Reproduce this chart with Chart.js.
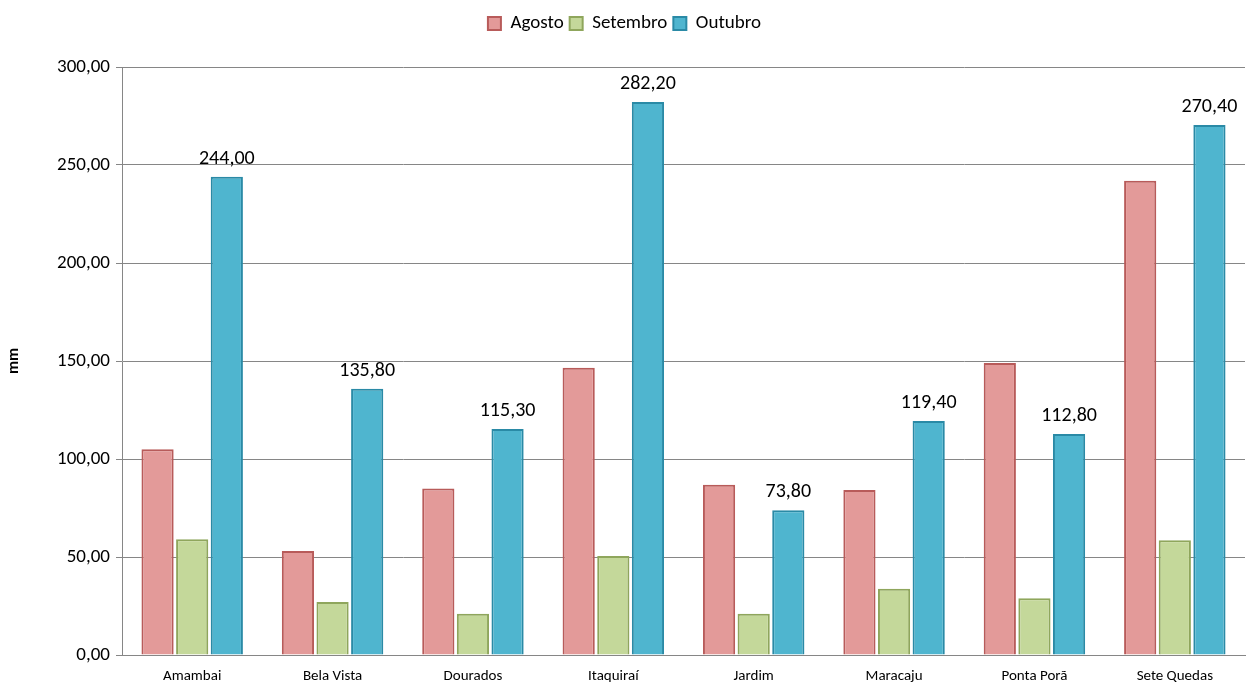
<!DOCTYPE html>
<html><head><meta charset="utf-8">
<script src="https://cdn.jsdelivr.net/npm/chart.js@4/dist/chart.umd.min.js"></script>
<style>html,body{margin:0;background:#fff}#wrap{width:1257px;height:692px}</style>
</head><body><div id="wrap"><canvas id="c"></canvas></div>
<script>
const cities = ['Amambai','Bela Vista','Dourados','Itaquiraí','Jardim','Maracaju','Ponta Porã','Sete Quedas'];
const agosto = [105, 53, 85, 146.5, 86.8, 84.2, 149, 242];
const setembro = [59, 27, 21, 50.5, 21, 33.8, 29, 58.5];
const outubro = [244.0, 135.8, 115.3, 282.2, 73.8, 119.4, 112.8, 270.4];
const yTicks = [0, 50, 100, 150, 200, 250, 300];

const FONT = 'Carlito, "Open Sans", sans-serif';
const fmt = v => v.toFixed(2).replace('.', ',');

const labelPlugin = {
  id: 'outLabels',
  afterInit(chart) {
    const lg = chart.legend;
    const fit = lg.fit;
    lg.fit = function () { fit.call(this); this.height += 24; };
  },
  afterDatasetsDraw(chart) {
    const ctx = chart.ctx;
    const meta = chart.getDatasetMeta(2);
    ctx.save();
    ctx.font = '20px ' + FONT;
    ctx.fillStyle = '#000';
    ctx.textAlign = 'center';
    ctx.textBaseline = 'bottom';
    meta.data.forEach((b, i) => ctx.fillText(fmt(outubro[i]), b.x, b.y - 8));
    ctx.restore();
  }
};

function ds(label, data, fill, edge) {
  return { label, data, backgroundColor: fill, borderColor: edge, borderWidth: 2,
           categoryPercentage: 0.74, barPercentage: 0.93 };
}

new Chart(document.getElementById('c'), {
  type: 'bar',
  data: {
    labels: cities,
    datasets: [
      ds('Agosto', agosto, '#e39a99', '#b85b5a'),
      ds('Setembro', setembro, '#c4d89a', '#8fa65c'),
      ds('Outubro', outubro, '#4fb5cf', '#2a8aa6'),
    ],
  },
  options: {
    responsive: true, maintainAspectRatio: false, animation: false,
    layout: { padding: { left: 4, right: 12, top: 8, bottom: 3 } },
    plugins: {
      legend: { position: 'top',
        labels: { boxWidth: 13, boxHeight: 13, padding: 6, color: '#000',
        font: { size: 19, family: FONT } } },
      tooltip: { enabled: false },
    },
    scales: {
      x: {
        grid: { display: false },
        border: { color: '#868686' },
        ticks: { color: '#000', padding: 4, font: { size: 15, family: FONT }, maxRotation: 0 },
      },
      y: {
        min: 0, max: 300,
        afterBuildTicks: a => { a.ticks = yTicks.map(v => ({ value: v })); },
        afterFit: a => { a.width = 118; },
        grid: { color: '#868686', tickLength: 6 },
        border: { color: '#868686' },
        title: { display: true, text: 'mm', color: '#000', padding: { top: 0, bottom: -4 },
          font: { size: 16, weight: 'bold', family: FONT } },
        ticks: { color: '#000', callback: v => fmt(v), padding: 6,
          font: { size: 19, family: FONT } },
      },
    },
  },
  plugins: [labelPlugin],
});
</script></body></html>
